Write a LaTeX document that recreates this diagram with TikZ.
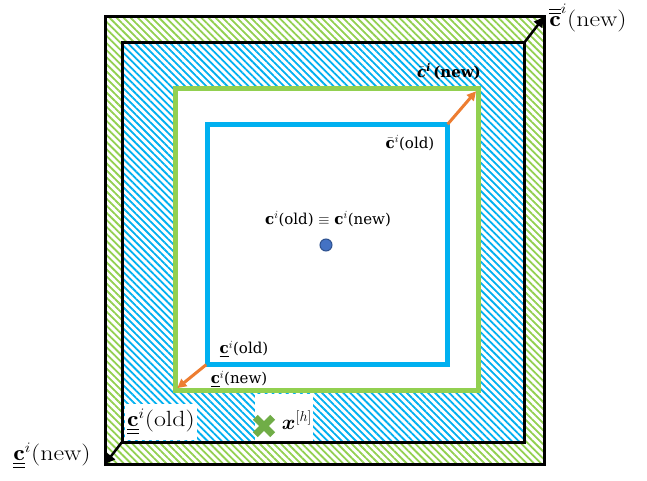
\documentclass[tikz,border=0pt]{standalone}
\usepackage{amsmath,amssymb}
\usepackage{graphicx}
\usepackage{fontspec}
\newfontfamily\cambria{DejaVu Serif}
\usetikzlibrary{arrows.meta, patterns.meta, positioning}

\definecolor{hatchblue}{HTML}{00B0F0}
\definecolor{hatchgreen}{HTML}{92D050}
\definecolor{arroworange}{HTML}{ED7D31}
\definecolor{dotblue}{HTML}{4472C4}
\definecolor{dotedge}{HTML}{2F528F}
\definecolor{crossgreen}{HTML}{70AD47}

% the big labels are set a little wider than the font
\newcommand{\widelabel}[1]{\scalebox{1.18}[1]{#1}}
% bold c in the font of the inner labels
\newcommand{\cvec}{\text{\bfseries c}}

\begin{document}
\begin{tikzpicture}[
    x=1pt, y=-1pt,
    frame/.style={line width=3pt, black},
    newbox/.style={line width=5pt, draw=hatchgreen, fill=white},
    oldbox/.style={line width=5pt, draw=hatchblue},
    greenhatch/.style={pattern={Lines[angle=-45, distance=5pt, line width=1.8pt]}, pattern color=hatchgreen},
    bluehatch/.style={pattern={Lines[angle=-45, distance=5pt, line width=1.8pt]}, pattern color=hatchblue},
    blackarrow/.style={-{Triangle[length=10pt, width=10pt]}, line width=2.5pt, black},
    orangearrow/.style={-{Triangle[length=9pt, width=9pt]}, line width=3pt, arroworange},
    biglabel/.style={font=\fontsize{22}{26}\selectfont, inner sep=1pt},
    smalllabel/.style={font=\cambria\fontsize{15}{18}\selectfont, inner sep=1pt},
    whitelabel/.style={biglabel, fill=white, inner sep=2pt}
  ]
    \useasboundingbox[fill=white] (0,0) rectangle (647,481);

    % corners of the four squares
    \coordinate (outerNW) at (105,17);
    \coordinate (outerSE) at (544,464);
    \coordinate (innerNW) at (122,43);
    \coordinate (innerSE) at (524,442);
    \coordinate (newNW) at (175,89);
    \coordinate (newSE) at (478,390);
    \coordinate (oldNW) at (207,125);
    \coordinate (oldSE) at (447,364);
    \coordinate (outerNE) at (outerSE |- outerNW);
    \coordinate (outerSW) at (outerNW |- outerSE);
    \coordinate (innerNE) at (innerSE |- innerNW);
    \coordinate (innerSW) at (innerNW |- innerSE);
    \coordinate (newNE) at (newSE |- newNW);
    \coordinate (newSW) at (newNW |- newSE);
    \coordinate (oldNE) at (oldSE |- oldNW);
    \coordinate (oldSW) at (oldNW |- oldSE);

    % hatched bands
    \path[greenhatch] (outerNW) rectangle (outerSE);
    \path[fill=white, postaction={bluehatch}] (innerNW) rectangle (innerSE);
    \draw[newbox] (newNW) rectangle (newSE);
    \draw[oldbox] (oldNW) rectangle (oldSE);

    % labels on white patches
    \node[whitelabel, minimum height=36pt] (oldlow) at (161,422) {\widelabel{$\underline{\underline{\mathbf{c}}}^i$(old)}};
    \node[fill=white, minimum width=58pt, minimum height=48pt] (xhbox) at (284,418) {};
    \node[minimum size=17pt] (mark) at (264,426) {};
    \draw[line width=7pt, crossgreen] (mark.north west) -- (mark.south east)
                                      (mark.north east) -- (mark.south west);
    \node[biglabel, font=\fontsize{20}{22}\selectfont] (xh) at (297,420) {$\boldsymbol{x}^{[h]}$};

    \draw[frame] (outerNW) rectangle (outerSE);
    \draw[frame] (innerNW) rectangle (innerSE);

    % outer labels
    \node[biglabel] (newup) at (588,18) {\widelabel{$\overline{\overline{\mathbf{c}}}^i$(new)}};
    \node[biglabel] (newlow) at (52,456) {\widelabel{$\underline{\underline{\mathbf{c}}}^i$(new)}};

    % inner labels
    \node[smalllabel, font=\cambria\bfseries\fontsize{15}{18}\selectfont] (newbar) at (449,72) {$\bar{\text{\itshape c}}^{\text{\itshape i}}$\,(new)};
    \node[smalllabel] (oldbar) at (410,143) {$\bar{\cvec}^i$(old)};
    \node[smalllabel] (centre) at (328,219) {$\cvec^i$(old) $\equiv$ $\cvec^i$(new)};
    \node[smalllabel] (oldunder) at (244,349) {$\underline{\cvec}^i$(old)};
    \node[smalllabel] (newunder) at (239,379) {$\underline{\cvec}^i$(new)};

    \node[circle, fill=dotblue, draw=dotedge, line width=1pt, minimum size=12pt, inner sep=0pt] (dot) at (326,245) {};

    % arrows
    \draw[blackarrow] (innerNE) -- (outerNE);
    \draw[blackarrow] (innerSW) -- (outerSW);
    \draw[orangearrow, shorten <=1pt, shorten >=3pt] (oldNE) -- (newNE);
    \draw[orangearrow, shorten <=1pt, shorten >=3pt] (oldSW) -- (newSW);
\end{tikzpicture}
\end{document}
